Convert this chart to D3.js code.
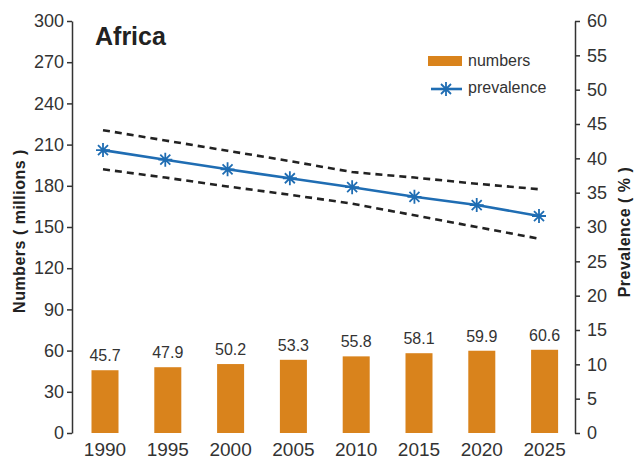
<!DOCTYPE html>
<html>
<head>
<meta charset="utf-8">
<script src="https://cdn.jsdelivr.net/npm/d3@7/dist/d3.min.js"></script>
<style>
  body { margin: 0; background: #fff; }
  svg { font-family: "Liberation Sans", Arial, sans-serif; }
  .axis path, .axis line { stroke: #333; stroke-width: 1.5; }
  .axis text { fill: #333; font-size: 18px; }
</style>
</head>
<body>
<svg width="634" height="460"></svg>
<script>
// chart data
var years = [1990, 1995, 2000, 2005, 2010, 2015, 2020, 2025];
var numbers = [45.7, 47.9, 50.2, 53.3, 55.8, 58.1, 59.9, 60.6];
var prevalence = [41.2, 39.8, 38.4, 37.1, 35.8, 34.4, 33.2, 31.6];
var upperCI = [44.1, 42.6, 41.1, 39.6, 38.0, 37.2, 36.3, 35.5];
var lowerCI = [38.4, 37.2, 35.9, 34.7, 33.4, 31.7, 30.0, 28.3];
var leftTicks = d3.range(0, 301, 30);
var rightTicks = d3.range(0, 61, 5);

var svg = d3.select("svg"),
    plotLeft = 72, plotRight = 575, plotTop = 21, plotBottom = 433;

var x = d3.scaleBand()                       // bars
    .domain(years)
    .range([73.6, 576])
    .paddingInner(0.57)
    .paddingOuter(0.285);

var xl = d3.scalePoint()                     // line points
    .domain(years)
    .range([103, 539]);

var y = d3.scaleLinear().domain([0, 300]).range([plotBottom, plotTop]);
var y2 = d3.scaleLinear().domain([0, 60]).range([plotBottom, plotTop]);

// left axis
svg.append("g")
    .attr("class", "axis")
    .attr("transform", "translate(" + plotLeft + ",0)")
    .call(d3.axisLeft(y).tickValues(leftTicks).tickSize(5).tickSizeOuter(0).tickPadding(3));

// right axis
svg.append("g")
    .attr("class", "axis")
    .attr("transform", "translate(" + plotRight + ",0)")
    .call(d3.axisRight(y2).tickValues(rightTicks).tickSize(5).tickSizeOuter(0).tickPadding(7));

// year labels
svg.append("g").selectAll("text")
    .data(years)
    .enter().append("text")
    .attr("x", function (d) { return x(d) + x.bandwidth() / 2; })
    .attr("y", 456)
    .attr("text-anchor", "middle")
    .attr("fill", "#333")
    .style("font-size", "19px")
    .text(function (d) { return d; });

// bars
svg.append("g").selectAll("rect")
    .data(numbers)
    .enter().append("rect")
    .attr("x", function (d, i) { return x(years[i]); })
    .attr("y", function (d) { return y(d); })
    .attr("width", x.bandwidth())
    .attr("height", function (d) { return plotBottom - y(d); })
    .attr("fill", "#d9831c");

svg.append("g").selectAll("text")
    .data(numbers)
    .enter().append("text")
    .attr("x", function (d, i) { return x(years[i]) + x.bandwidth() / 2; })
    .attr("y", function (d) { return y(d) - 9; })
    .attr("text-anchor", "middle")
    .attr("fill", "#333")
    .style("font-size", "16px")
    .text(function (d) { return d.toFixed(1); });

// confidence bounds
var line = d3.line()
    .x(function (d, i) { return xl(years[i]); })
    .y(function (d) { return y2(d); });

[upperCI, lowerCI].forEach(function (s) {
    svg.append("path")
        .datum(s)
        .attr("fill", "none")
        .attr("stroke", "#222")
        .attr("stroke-width", 2.6)
        .attr("stroke-dasharray", "7,5")
        .attr("d", line);
});

// prevalence line
svg.append("path")
    .datum(prevalence)
    .attr("fill", "none")
    .attr("stroke", "#1f6db3")
    .attr("stroke-width", 2.6)
    .attr("d", line);

var star = "M0,-7V7M-7,0H7M-5,-5L5,5M-5,5L5,-5";
svg.append("g").selectAll("path")
    .data(prevalence)
    .enter().append("path")
    .attr("transform", function (d, i) { return "translate(" + xl(years[i]) + "," + y2(d) + ")"; })
    .attr("d", star)
    .attr("stroke", "#1f6db3")
    .attr("stroke-width", 1.8)
    .attr("fill", "none");

// title
svg.append("text")
    .attr("x", 95)
    .attr("y", 45)
    .attr("fill", "#222")
    .style("font-size", "25px")
    .style("font-weight", "bold")
    .text("Africa");

// axis titles
svg.append("text")
    .attr("transform", "translate(25,231) rotate(-90)")
    .attr("text-anchor", "middle")
    .attr("fill", "#222")
    .style("font-size", "16px")
    .style("font-weight", "bold")
    .style("letter-spacing", "0.5px")
    .text("Numbers ( millions )");

svg.append("text")
    .attr("transform", "translate(630,232) rotate(-90)")
    .attr("text-anchor", "middle")
    .attr("fill", "#222")
    .style("font-size", "16px")
    .style("font-weight", "bold")
    .style("letter-spacing", "0.5px")
    .text("Prevalence ( % )");

// legend
var lg = svg.append("g");
lg.append("rect")
    .attr("x", 428).attr("y", 56).attr("width", 34).attr("height", 10)
    .attr("fill", "#d9831c");
lg.append("text")
    .attr("x", 468).attr("y", 66)
    .attr("fill", "#333").style("font-size", "16px")
    .text("numbers");
lg.append("line")
    .attr("x1", 431).attr("x2", 462).attr("y1", 89).attr("y2", 89)
    .attr("stroke", "#1f6db3").attr("stroke-width", 2.6);
lg.append("path")
    .attr("transform", "translate(446,89)")
    .attr("d", star)
    .attr("stroke", "#1f6db3").attr("stroke-width", 1.8);
lg.append("text")
    .attr("x", 468).attr("y", 93)
    .attr("fill", "#333").style("font-size", "16px")
    .text("prevalence");
</script>
</body>
</html>
